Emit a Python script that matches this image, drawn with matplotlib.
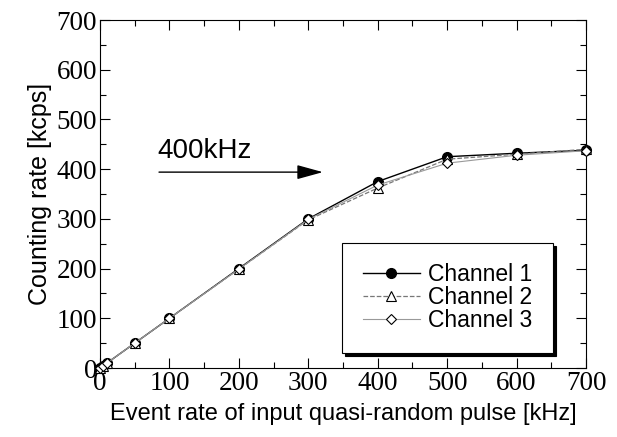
import numpy as np
import matplotlib
matplotlib.use('Agg')
import matplotlib.pyplot as plt
from matplotlib.ticker import MultipleLocator

# Data
rate_in = [0, 5, 10, 50, 100, 200, 300, 400, 500, 600, 700]
ch1 = [0, 5, 10, 50, 100, 200, 300, 375, 425, 432, 438]
ch2 = [0, 5, 10, 50, 100, 199, 298, 362, 420, 430, 440]
ch3 = [0, 5, 10, 50, 100, 199, 299, 368, 412, 428, 437]

serif = 'Liberation Serif'
sans = 'Liberation Sans'

fig = plt.figure(figsize=(6.17, 4.37), dpi=100)
ax = fig.add_axes([100 / 617, 69 / 437, 486 / 617, 348 / 437])

ax.plot(rate_in, ch1, '-', color='black', lw=1.0, marker='o', ms=7,
        mfc='black', mec='black', label='Channel 1', zorder=3, clip_on=False)
ax.plot(rate_in, ch2, '--', color='#777777', lw=0.9, marker='^', ms=7.5,
        mfc='white', mec='black', mew=0.8, label='Channel 2', zorder=4,
        clip_on=False)
ax.plot(rate_in, ch3, '-', color='#999999', lw=0.8, marker='D', ms=5.5,
        mfc='white', mec='black', mew=0.8, label='Channel 3', zorder=5,
        clip_on=False)

ax.set_xlim(0, 700)
ax.set_ylim(0, 700)
ax.xaxis.set_major_locator(MultipleLocator(100))
ax.xaxis.set_minor_locator(MultipleLocator(50))
ax.yaxis.set_major_locator(MultipleLocator(100))
ax.yaxis.set_minor_locator(MultipleLocator(50))
ax.tick_params(which='both', direction='in', top=True, right=True, width=0.8)
ax.tick_params(which='major', length=7, labelsize=19.5, pad=2)
ax.tick_params(which='minor', length=4)
for lab in ax.get_xticklabels() + ax.get_yticklabels():
    lab.set_fontfamily(serif)
for s in ax.spines.values():
    s.set_linewidth(0.8)

ax.set_xlabel('Event rate of input quasi-random pulse [kHz]',
              fontfamily=sans, fontsize=17, labelpad=5)
ax.set_ylabel('Counting rate [kcps]', fontfamily=sans, fontsize=18, labelpad=3)

# arrow marking the 400 kHz point
ax.annotate('', xy=(321, 394), xytext=(85, 394),
            arrowprops=dict(arrowstyle='-|>,head_length=0.8,head_width=0.22',
                            color='black', lw=1.0,
                            mutation_scale=20, shrinkA=0, shrinkB=0))
ax.text(82, 422, '400kHz', fontfamily=sans, fontsize=20, ha='left',
        va='baseline')

leg = ax.legend(loc='lower right', bbox_to_anchor=(0.932, 0.043),
                prop={'family': sans, 'size': 16.5}, frameon=True,
                fancybox=False, shadow={'color': 'black', 'alpha': 1.0},
                handlelength=2.5, handletextpad=0.35, labelspacing=0.0,
                borderpad=0.9, borderaxespad=0)
leg.get_frame().set_edgecolor('black')
leg.get_frame().set_linewidth(0.8)

fig.savefig('out.png', dpi=100)
